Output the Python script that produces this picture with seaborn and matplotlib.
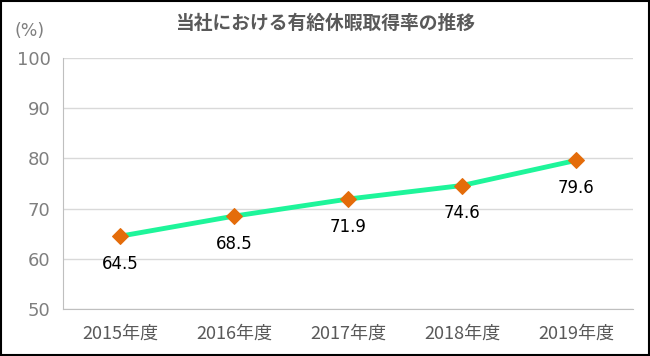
import pandas as pd
import matplotlib.pyplot as plt
import seaborn as sns
from matplotlib.patches import Rectangle

# データ
years = ['2015年度', '2016年度', '2017年度', '2018年度', '2019年度']
rates = [64.5, 68.5, 71.9, 74.6, 79.6]

df = pd.DataFrame({'year': years, 'rate': rates})

sns.set_style('white')
plt.rcParams['font.family'] = ['Noto Sans CJK JP', 'DejaVu Sans']

fig = plt.figure(figsize=(6.5, 3.56), dpi=100)
ax = fig.add_axes([63 / 650, 1 - 309 / 356, (633 - 63) / 650, (309 - 58) / 356])

sns.lineplot(data=df, x='year', y='rate', ax=ax, color='#1EF59A', linewidth=3.5,
             marker='D', markersize=8, markerfacecolor='#E46C0A',
             markeredgecolor='#E46C0A', sort=False)

for i, v in enumerate(rates):
    ax.annotate(f'{v}', (i, v), xytext=(0, -20), textcoords='offset points',
                ha='center', va='center', fontsize=12, color='#000000',
                family=['DejaVu Sans'])

ax.set_ylim(50, 100)
ax.set_yticks(range(50, 101, 10))
ax.set_xlim(-0.5, 4.5)
ax.yaxis.grid(True, color='#D9D9D9', linewidth=1)
ax.set_axisbelow(True)

for s in ['top', 'right']:
    ax.spines[s].set_visible(False)
ax.spines['left'].set_color('#BFBFBF')
ax.spines['bottom'].set_color('#BFBFBF')

ax.set_xticks(range(len(years)))
ax.set_xticklabels(years)
ax.set_xticks([i - 0.5 for i in range(len(years) + 1)], minor=True)
ax.tick_params(axis='x', which='major', length=0, pad=11, labelsize=13, labelcolor='#595959')
ax.tick_params(axis='x', which='minor', length=5, color='#BFBFBF', direction='out')
ax.tick_params(axis='y', length=5, color='#BFBFBF', labelsize=13, labelcolor='#7F7F7F',
               pad=4)
for lab in ax.get_yticklabels():
    lab.set_family(['DejaVu Sans'])

ax.set_xlabel('')
ax.set_ylabel('')

fig.text(30 / 650, 1 - 31 / 356, '(%)', ha='center', va='center', fontsize=12.5,
         color='#7F7F7F', family=['DejaVu Sans'])
fig.text(325 / 650, 1 - 23 / 356, '当社における有給休暇取得率の推移', ha='center',
         va='center', fontsize=13.5, fontweight='bold', color='#595959')

fig.patches.append(Rectangle((0.002, 0.003), 0.996, 0.994, transform=fig.transFigure,
                             fill=False, edgecolor='#000000', linewidth=1.5))

fig.savefig('out.png', dpi=100)
